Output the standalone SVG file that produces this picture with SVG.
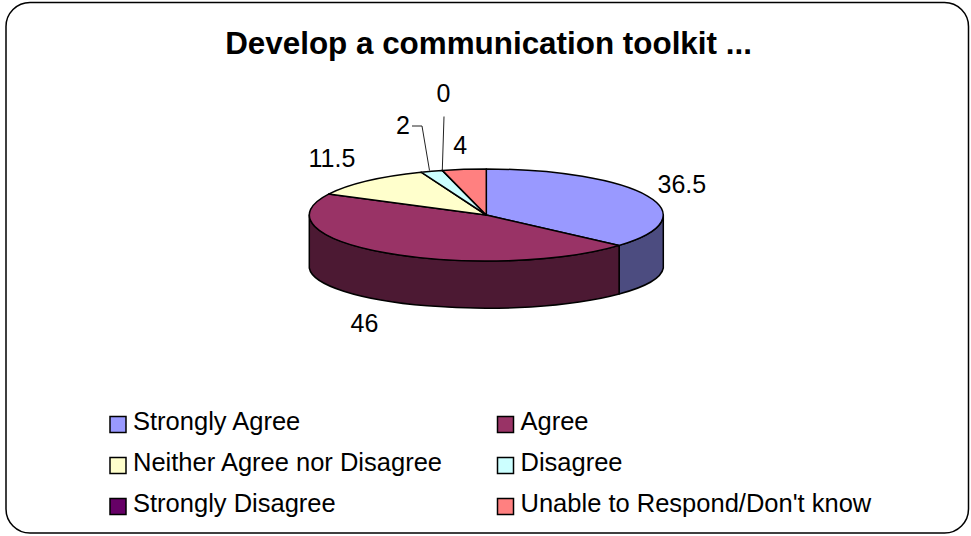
<svg xmlns="http://www.w3.org/2000/svg" width="971" height="536" viewBox="0 0 971 536">
<style>
.t{font-family:"Liberation Sans",Arial,sans-serif;fill:#000}
.lbl{font-size:25px}
.leg{font-size:25.5px}
.title{font-size:31.4px;font-weight:bold}
.sl{stroke:#000;stroke-width:1.5;stroke-linejoin:round}
.sw{stroke:#000;stroke-width:1.5}
.ld{fill:none;stroke:#222;stroke-width:1}
</style>
<rect x="6" y="2.5" width="962.5" height="530.5" rx="24" ry="24" fill="#fff" stroke="#000" stroke-width="1.5"/>
<text class="t title" x="488.5" y="54" text-anchor="middle">Develop a communication toolkit ...</text>
<g id="pie">
<g id="sides">
<path class="sl" fill="#4C4C80" d="M663.3 215 A177 46 0 0 1 619.1 245.4 L619.1 294 A177 42 0 0 0 663.3 268 Z"/>
<path class="sl" fill="#4C1933" d="M619.1 245.4 A177 46 0 0 1 309.3 215 L309.3 268 A177 42 0 0 0 619.1 294 Z"/>
</g>
<g id="slice-strongly-agree"><path class="sl" fill="#9999FF" d="M486.3 215 L486.3 169 A177 46 0 0 1 619.1 245.4 Z"/></g>
<g id="slice-agree"><path class="sl" fill="#993366" d="M486.3 215 L619.1 245.4 A177 46 0 0 1 328.6 194.1 Z"/></g>
<g id="slice-neither"><path class="sl" fill="#FFFFCC" d="M486.3 215 L328.6 194.1 A177 46 0 0 1 421.1 172.2 Z"/></g>
<g id="slice-disagree"><path class="sl" fill="#CCFFFF" d="M486.3 215 L421.1 172.2 A177 46 0 0 1 442.3 170.4 Z"/></g>
<g id="slice-strongly-disagree"><path class="sl" fill="#660066" d="M486.3 215 L442.3 170.4 Z"/></g>
<g id="slice-unable"><path class="sl" fill="#FF8080" d="M486.3 215 L442.3 170.4 A177 46 0 0 1 486.3 169 Z"/></g>
</g>
<g id="connectors">
<polyline class="ld" points="412,126 422,126 429.5,170.5"/>
<line class="ld" x1="444" y1="116.5" x2="442.3" y2="170"/>
</g>
<g id="labels">
<text class="t lbl" x="657.5" y="192.7">36.5</text>
<text class="t lbl" x="350.5" y="331.7">46</text>
<text class="t lbl" x="308.5" y="166.7">11.5</text>
<text class="t lbl" x="396" y="134.3">2</text>
<text class="t lbl" x="436.5" y="101.7">0</text>
<text class="t lbl" x="453.3" y="154.3">4</text>
</g>
<g id="legend">
<g id="leg-strongly-agree"><rect class="sw" x="110" y="416.5" width="16" height="16" fill="#9999FF"/><text class="t leg" x="133" y="430">Strongly Agree</text></g>
<g id="leg-agree"><rect class="sw" x="497.5" y="416.5" width="16" height="16" fill="#993366"/><text class="t leg" x="520.5" y="430">Agree</text></g>
<g id="leg-neither"><rect class="sw" x="110" y="457.5" width="16" height="16" fill="#FFFFCC"/><text class="t leg" x="133" y="471">Neither Agree nor Disagree</text></g>
<g id="leg-disagree"><rect class="sw" x="497.5" y="457.5" width="16" height="16" fill="#CCFFFF"/><text class="t leg" x="520.5" y="471">Disagree</text></g>
<g id="leg-strongly-disagree"><rect class="sw" x="110" y="498.5" width="16" height="16" fill="#660066"/><text class="t leg" x="133" y="512">Strongly Disagree</text></g>
<g id="leg-unable"><rect class="sw" x="497.5" y="498.5" width="16" height="16" fill="#FF8080"/><text class="t leg" x="520.5" y="512">Unable to Respond/Don't know</text></g>
</g>
</svg>
